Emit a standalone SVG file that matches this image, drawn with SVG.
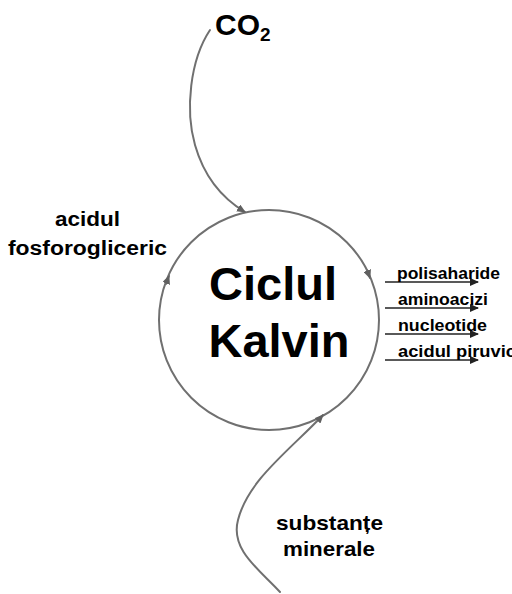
<svg xmlns="http://www.w3.org/2000/svg" width="512" height="594" viewBox="0 0 512 594">
<style>
.ln{fill:none;stroke:#707070;stroke-width:2;stroke-linecap:round}
.out{fill:none;stroke:#222;stroke-width:1.5}
.t{font-family:"Liberation Sans",Arial,sans-serif;font-weight:bold;fill:#000}
</style>
<defs>
<marker id="ah" markerWidth="10" markerHeight="8" refX="8" refY="4" orient="auto" markerUnits="userSpaceOnUse">
<path d="M0,0 L9,4 L0,8 Z" fill="#606060"/>
</marker>
<marker id="ab" markerWidth="10" markerHeight="8" refX="8" refY="4" orient="auto" markerUnits="userSpaceOnUse">
<path d="M0,0 L9,4 L0,8 Z" fill="#222"/>
</marker>
</defs>
<rect width="512" height="594" fill="#fff"/>
<g id="cycle">
<circle cx="269" cy="320" r="110" class="ln"/>
<text class="t" x="273" y="300" font-size="47" text-anchor="middle">Ciclul</text>
<text class="t" x="279" y="357" font-size="47" text-anchor="middle">Kalvin</text>
</g>
<g id="connectors">
<path class="ln" d="M210,30 C190,60 185,110 195,145 C205,180 225,200 245,212" marker-end="url(#ah)"/>
<path class="ln" d="M280,592 C260,570 230,550 238,520 C248,480 290,450 323,415" marker-end="url(#ah)"/>
<path class="ln" d="M166,284 L169,276" marker-end="url(#ah)"/>
<path class="ln" d="M367,270 L370,278" marker-end="url(#ah)"/>
<line class="out" x1="385" y1="282" x2="478" y2="282" marker-end="url(#ab)"/>
<line class="out" x1="385" y1="308" x2="478" y2="308" marker-end="url(#ab)"/>
<line class="out" x1="385" y1="334" x2="478" y2="334" marker-end="url(#ab)"/>
<line class="out" x1="385" y1="360" x2="478" y2="360" marker-end="url(#ab)"/>
</g>
<g id="co2">
<text class="t" x="215" y="35" font-size="30">CO<tspan font-size="19" dy="6">2</tspan></text>
</g>
<g id="acid-fosfo">
<text class="t" x="55" y="226" font-size="20" textLength="65" lengthAdjust="spacingAndGlyphs">acidul</text>
<text class="t" x="8" y="255" font-size="20" textLength="159" lengthAdjust="spacingAndGlyphs">fosforogliceric</text>
</g>
<g id="products">
<text class="t" x="397" y="279" font-size="16" textLength="103" lengthAdjust="spacingAndGlyphs">polisaharide</text>
<text class="t" x="398" y="305" font-size="16" textLength="90" lengthAdjust="spacingAndGlyphs">aminoacizi</text>
<text class="t" x="398" y="331" font-size="16" textLength="89" lengthAdjust="spacingAndGlyphs">nucleotide</text>
<text class="t" x="398" y="357" font-size="16" textLength="118" lengthAdjust="spacingAndGlyphs">acidul piruvic</text>
</g>
<g id="minerale">
<text class="t" x="276" y="530" font-size="21" textLength="107" lengthAdjust="spacingAndGlyphs">substanțe</text>
<text class="t" x="283" y="556" font-size="21" textLength="92" lengthAdjust="spacingAndGlyphs">minerale</text>
</g>
</svg>
